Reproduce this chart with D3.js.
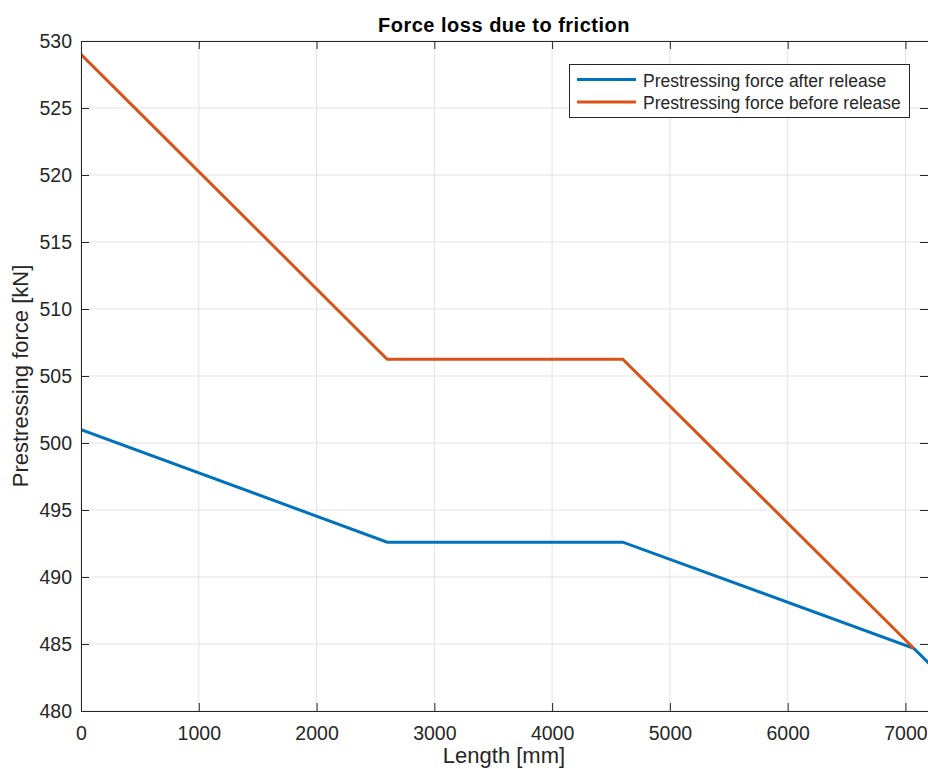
<!DOCTYPE html>
<html><head><meta charset="utf-8">
<script src="https://cdn.jsdelivr.net/npm/d3@7"></script>
<style>body{margin:0;background:#fff}svg{display:block}</style>
</head><body>
<svg id="chart" width="928" height="769"></svg>
<script>
const xAfter = [0, 2600, 4600, 7070, 7200];
const yAfter = [501, 492.6, 492.6, 484.68, 483.55];
const xBefore = [0, 2600, 4600, 7070];
const yBefore = [529, 506.25, 506.25, 484.68];
const xTicks = [0, 1000, 2000, 3000, 4000, 5000, 6000, 7000];
const yTicks = [480, 485, 490, 495, 500, 505, 510, 515, 520, 525, 530];
const seriesNames = ["Prestressing force after release", "Prestressing force before release"];
const colors = ["#0072BD", "#D95319"];

const svg = d3.select("#chart");
const L = 81, R = 929, T = 41, B = 711;
const x = d3.scaleLinear().domain([0, 7200]).range([L, R]);
const y = d3.scaleLinear().domain([480, 530]).range([B, T]);
const font = "'Liberation Sans', Arial, Helvetica, sans-serif";
const axCol = "#262626";

// grid
const g = svg.append("g");
g.selectAll(".gx").data(xTicks).join("line")
  .attr("x1", d => x(d)).attr("x2", d => x(d)).attr("y1", T).attr("y2", B)
  .attr("stroke", "#e3e3e3").attr("stroke-width", 1);
g.selectAll(".gy").data(yTicks).join("line")
  .attr("y1", d => y(d)).attr("y2", d => y(d)).attr("x1", L).attr("x2", R)
  .attr("stroke", "#e3e3e3").attr("stroke-width", 1);

// lines
svg.append("defs").append("clipPath").attr("id", "clip")
  .append("rect").attr("x", L).attr("y", T).attr("width", R - L).attr("height", B - T);
const line = d3.line().x(d => x(d[0])).y(d => y(d[1]));
const plot = svg.append("g").attr("clip-path", "url(#clip)");
plot.append("path").datum(xAfter.map((v, i) => [v, yAfter[i]]))
  .attr("d", line).attr("fill", "none").attr("stroke", colors[0]).attr("stroke-width", 3);
plot.append("path").datum(xBefore.map((v, i) => [v, yBefore[i]]))
  .attr("d", line).attr("fill", "none").attr("stroke", colors[1]).attr("stroke-width", 3);

// axes
const tk = 8;
const xb = svg.append("g").attr("transform", `translate(0,${B})`)
  .call(d3.axisBottom(x).tickValues(xTicks).tickSizeInner(-tk).tickSizeOuter(0).tickPadding(15).tickFormat(d3.format("d")));
const xt = svg.append("g").attr("transform", `translate(0,${T})`)
  .call(d3.axisTop(x).tickValues(xTicks).tickSizeInner(-tk).tickSizeOuter(0).tickFormat(""));
const yl = svg.append("g").attr("transform", `translate(${L},0)`)
  .call(d3.axisLeft(y).tickValues(yTicks).tickSizeInner(-tk).tickSizeOuter(0).tickPadding(9).tickFormat(d3.format("d")));
const yr = svg.append("g").attr("transform", `translate(${R - 1},0)`)
  .call(d3.axisRight(y).tickValues(yTicks).tickSizeInner(-tk).tickSizeOuter(0).tickFormat(""));
[xb, xt, yl, yr].forEach(a => {
  a.select(".domain").attr("stroke", axCol).attr("stroke-width", 1);
  a.selectAll(".tick line").attr("stroke", axCol);
  a.selectAll("text").attr("fill", axCol).style("font-family", font).style("font-size", "19.5px");
});
xb.selectAll("text").attr("dy", "0.71em");

// title & labels
svg.append("text").attr("x", 504).attr("y", 32).attr("text-anchor", "middle")
  .style("font-family", font).style("font-size", "20px").style("font-weight", "bold")
  .style("letter-spacing", "0.5px")
  .attr("fill", "#000").text("Force loss due to friction");
svg.append("text").attr("x", 504).attr("y", 763).attr("text-anchor", "middle")
  .style("font-family", font).style("font-size", "22px").attr("fill", axCol).text("Length [mm]");
svg.append("text").attr("transform", `translate(28,${(T + B) / 2}) rotate(-90)`).attr("text-anchor", "middle")
  .style("font-family", font).style("font-size", "22px").attr("fill", axCol).text("Prestressing force [kN]");

// legend
const lg = svg.append("g");
lg.append("rect").attr("x", 569.5).attr("y", 64.5).attr("width", 340).attr("height", 53)
  .attr("fill", "#fff").attr("stroke", axCol).attr("stroke-width", 1);
seriesNames.forEach((n, i) => {
  const yy = 79.5 + i * 22.5;
  lg.append("line").attr("x1", 577).attr("x2", 636).attr("y1", yy).attr("y2", yy)
    .attr("stroke", colors[i]).attr("stroke-width", 3);
  lg.append("text").attr("x", 643).attr("y", yy + 1).attr("dy", "0.35em")
    .style("font-family", font).style("font-size", "17.5px").attr("fill", axCol).text(n);
});
</script>
</body></html>
